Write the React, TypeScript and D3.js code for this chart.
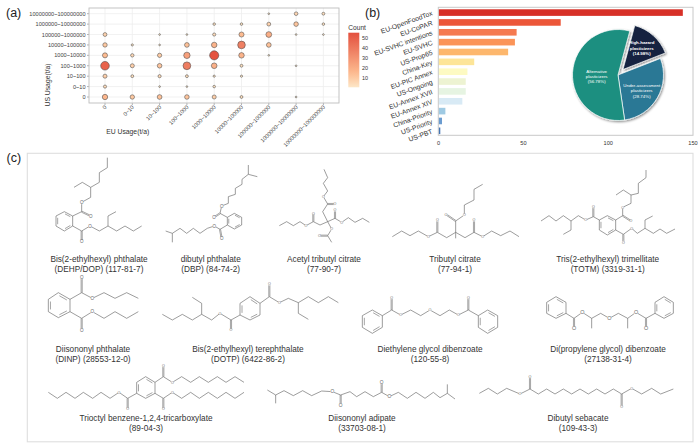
import React from "react";
import * as d3 from "d3";

const FONT = "'Liberation Sans', Arial, sans-serif";

// ---------- panel (a) data
const usageBins = ["0", "0~10", "10~100", "100~1000", "1000~10000", "10000~100000", "100000~1000000", "1000000~10000000", "10000000~100000000"];
const row0 = [17, 11, 13, 12, 9, 4, 0, 1, 0];
const row1 = [5, 0, 1, 1, 3, 0, 0, 0, 0];
const row2 = [9, 4, 5, 4, 2, 2, 0, 0, 0];
const row3 = [48, 9, 12, 38, 19, 4, 0, 1, 0];
const row4 = [15, 6, 10, 25, 54, 18, 1, 0, 0];
const row5 = [11, 2, 1, 13, 18, 37, 13, 0, 0];
const row6 = [8, 0, 1, 1, 5, 15, 20, 1, 1];
const row7 = [0, 0, 0, 0, 3, 3, 8, 12, 3];
const row8 = [0, 0, 0, 0, 0, 0, 1, 7, 4];
const rows = [row0, row1, row2, row3, row4, row5, row6, row7, row8];
const legendTicks = [10, 20, 30, 40, 50];

// ---------- panel (b) data
const lists = ["EU-OpenFoodTox", "EU-CoPAR", "EU-SVHC intentions", "EU-SVHC", "US-Prop65", "China-Key", "EU-PIC Annex", "US-Ongoing", "EU-Annex XVII", "EU-Annex XIV", "China-Priority", "US-Priority", "US-PBT"];
const listCounts = [144, 72, 46, 45, 41, 21, 17, 16, 16, 14, 4, 2, 1];
const listColors = ["#d73027", "#ec5638", "#f57a50", "#fb9458", "#fdb76d", "#fde598", "#fdfac2", "#edf3d2", "#e6f4e2", "#d8eaf5", "#9fcae3", "#6b9cd0", "#4575b4"];
const xTicksB = [0, 50, 100, 150];
const pieNames = ["High-hazard", "Under-assessment", "Alternative"];
const pieShares = [14.98, 28.74, 56.78];
const pieColors = ["#12233f", "#2a7895", "#1a8f80"];

// ---------- panel (c): skeletal formulae, read in 3x crop units relative to crop origin
type Mol = { o: [number, number]; c: number[][]; d: number[][]; r: number[][]; ox: number[][]; s?: number };
const ring = (a: number[]) => a;

const molecules: Mol[] = [
  { o: [0, 145], s: 4.5, c: [[322,38,322,68,298,83,298,112,272,127,247,112,222,127],[272,127,272,157,245,172,245,200,218,213],[218,243,245,258,270,243,298,258,324,243,350,258,375,243,400,258,425,243],[324,243,324,213,348,200]], d: [[245,200,272,213],[245,258,245,290]], r: [ring([193,200,218,213,218,243,193,258,168,243,168,213])], ox: [[245,172],[270,243],[272,213],[245,290]] },
  { o: [0, 145], s: 4.5, c: [[745,60,745,88,772,95],[745,88,726,103,726,118,706,130,706,148,685,155,685,175,665,183,660,205,682,217],[682,240,660,253,643,243,622,250,600,265,580,250,560,265,540,250,517,265,497,258],[517,265,517,292]], d: [[660,205,642,217],[660,253,665,280]], r: [ring([703,205,725,217,725,240,703,252,682,240,682,217])], ox: [[665,183],[643,243],[642,217],[665,280]] },
  { o: [260, 155], s: 3.6, c: [[192,43,203,68,190,85,203,108,190,125,203,147,188,170,203,200,225,190,245,202,265,188,285,202,308,190,328,202],[203,200,180,210,160,200,138,212,120,200,100,212,80,200,58,212],[203,200,215,222,203,242,215,262]], d: [[203,147,225,147],[225,190,225,165],[160,200,160,175],[203,242,178,242]], r: [], ox: [[190,125],[245,202],[138,212],[215,222],[225,147],[225,165],[160,175],[178,242]] },
  { o: [350, 145], s: 3.6, c: [[398,118,372,133,372,165,343,180,343,210,317,228,317,262,290,278,262,262,235,275,205,258,180,272,155,258,127,275],[317,262,345,278,372,262,398,275,425,258,452,272,480,258,507,275],[317,262,317,280]], d: [[317,228,288,208],[262,262,262,225],[372,262,372,225]], r: [], ox: [[343,210],[235,275],[398,275],[288,208],[262,225],[372,225]] },
  { o: [350, 145], s: 3.6, c: [[888,75,888,98,865,115,865,145,843,150,820,135,798,150],[843,150,843,175,818,187,818,212,797,225],[797,255,820,268,845,250,862,265,885,250,910,265,930,252,950,265,975,252],[885,250,885,225,908,213],[748,225,730,215,707,225,685,212,663,228,640,212,618,228,597,212,573,228],[663,228,663,255,640,268]], d: [[818,212,843,228],[820,268,820,292],[730,215,730,185]], r: [ring([772,212,797,225,797,255,772,270,748,255,748,225])], ox: [[818,187],[845,250],[707,225],[843,228],[820,292],[730,185]] },
  { o: [30, 270], s: 4.6, c: [[120,88,155,68,187,85,222,68,255,85,290,68,325,85],[120,125,155,145,187,125,222,145,255,125,290,145,325,125]], d: [[155,68,155,22],[155,145,155,180]], r: [ring([85,68,120,88,120,125,85,143,55,125,55,88])], ox: [[187,85],[187,125],[155,22],[155,180]] },
  { o: [30, 270], s: 3.6, c: [[690,100,718,80,748,98,775,85,805,98,835,80,865,98,895,80,925,98],[805,98,805,130,835,148],[630,135,603,150,570,130,545,150,515,133,487,150,457,133,427,150,397,133],[515,133,515,100,487,82]], d: [[718,80,718,42],[603,150,603,180]], r: [ring([660,80,690,100,690,135,660,150,630,135,630,100])], ox: [[748,98],[570,130],[718,42],[603,180]] },
  { o: [350, 295], s: 3.6, c: [[97,62,125,45,152,60,182,45,212,62,240,45,270,62,298,45,325,60,355,45,385,62]], d: [[125,45,125,8],[355,45,355,8]], r: [ring([67,45,97,62,97,97,67,115,37,97,37,62]), ring([413,45,443,62,443,97,413,115,385,97,385,62])], ox: [[152,60],[240,45],[325,60],[125,8],[355,8]] },
  { o: [350, 295], s: 5.4, c: [[648,55,672,70,697,52,725,70,752,55,778,70,805,55,833,70,858,52,888,70,915,55],[725,70,725,100],[833,70,833,100]], d: [[672,70,672,100],[888,70,888,100]], r: [ring([618,5,648,22,648,55,618,70,590,55,590,22]), ring([942,5,970,22,970,55,942,70,915,55,915,22])], ox: [[697,52],[778,70],[858,52],[672,100],[888,100]] },
  { o: [0, 295], s: 3.6, c: [[465,262,490,245,517,262,545,245,572,262,598,245,625,262,652,245,678,262,705,245,732,262],[465,295,490,310,517,292,545,310,572,292,598,310,625,292,652,310,678,292,705,310,732,292],[410,295,383,310,357,292,330,310,303,292,278,310,250,292,225,310,198,292,172,310,145,292]], d: [[490,245,490,212],[490,310,490,342],[383,310,383,342]], r: [ring([437,245,465,262,465,295,437,310,410,295,410,262])], ox: [[517,262],[517,292],[357,292],[490,212],[490,342],[383,342]] },
  { o: [0, 295], s: 4.8, c: [[802,285,827,300,852,287,880,302,908,287,935,302,965,288,997,290,1022,300,1050,290,1070,305,1095,290,1120,305,1145,292,1168,305,1195,292,1222,310,1248,292,1275,310,1300,292,1320,308,1342,295,1365,312],[827,300,827,325],[1342,295,1342,268]], d: [[1022,300,1022,330],[1145,292,1145,262]], r: [], ox: [[997,290],[1168,305],[1022,330],[1145,262]] },
  { o: [350, 295], s: 3.6, c: [[388,295,415,280,442,297,470,280,510,297,540,282,565,297,590,282,615,297,640,282,665,297,690,282,715,297,740,282,765,297,790,282,815,297,845,280,875,297,905,280,932,297,970,282]], d: [[540,282,540,245],[815,297,815,335]], r: [], ox: [[510,297],[845,280],[540,245],[815,335]] },
];

const moleculeNames: [string, string, number, number][] = [
  ["Bis(2-ethylhexyl) phthalate", "(DEHP/DOP) (117-81-7)", 99, 258.7],
  ["dibutyl phthalate", "(DBP) (84-74-2)", 210.7, 258.7],
  ["Acetyl tributyl citrate", "(77-90-7)", 324, 258.7],
  ["Tributyl citrate", "(77-94-1)", 455, 258.7],
  ["Tris(2-ethylhexyl) trimellitate", "(TOTM) (3319-31-1)", 607.7, 258.7],
  ["Diisononyl phthalate", "(DINP) (28553-12-0)", 93, 348.7],
  ["Bis(2-ethylhexyl) terephthalate", "(DOTP) (6422-86-2)", 248, 348.7],
  ["Diethylene glycol dibenzoate", "(120-55-8)", 430, 348.7],
  ["Di(propylene glycol) dibenzoate", "(27138-31-4)", 608, 348.7],
  ["Trioctyl benzene-1,2,4-tricarboxylate", "(89-04-3)", 146, 417.7],
  ["Diisononyl adipate", "(33703-08-1)", 362, 417.7],
  ["Dibutyl sebacate", "(109-43-3)", 578, 417.7],
];

const BOND = "#5a5a5a";

function Molecule({ m }: { m: Mol }) {
  const px = (v: number) => m.o[0] + v / 3;
  const py = (v: number) => m.o[1] + v / 3;
  const pts = (a: number[]) => d3.range(0, a.length, 2).map((i) => [px(a[i]), py(a[i + 1])] as [number, number]);
  const line = d3.line();
  const els: React.ReactNode[] = [];
  m.c.forEach((a, i) => els.push(<path key={"c" + i} d={line(pts(a)) || ""} fill="none" stroke={BOND} strokeWidth={0.6} />));
  m.d.forEach((a, i) => {
    const [p, q] = pts(a);
    const dx = q[0] - p[0], dy = q[1] - p[1];
    const l = Math.hypot(dx, dy);
    const nx = (-dy / l) * 0.55, ny = (dx / l) * 0.55;
    els.push(<path key={"d" + i} d={(line([[p[0] + nx, p[1] + ny], [q[0] + nx, q[1] + ny]]) || "") + (line([[p[0] - nx, p[1] - ny], [q[0] - nx, q[1] - ny]]) || "")} fill="none" stroke={BOND} strokeWidth={0.55} />);
  });
  m.r.forEach((a, i) => {
    const p = pts(a);
    const cx = d3.mean(p, (v) => v[0]) as number;
    const cy = d3.mean(p, (v) => v[1]) as number;
    els.push(<path key={"r" + i} d={(line(p) || "") + "Z"} fill="none" stroke={BOND} strokeWidth={0.6} />);
    [0, 2, 4].forEach((k) => {
      const s = p[k], e = p[(k + 1) % 6];
      const f = 0.8;
      const ia = [cx + (s[0] - cx) * f, cy + (s[1] - cy) * f] as [number, number];
      const ib = [cx + (e[0] - cx) * f, cy + (e[1] - cy) * f] as [number, number];
      els.push(<path key={"ri" + i + k} d={line([[ia[0] + (ib[0] - ia[0]) * 0.1, ia[1] + (ib[1] - ia[1]) * 0.1], [ib[0] - (ib[0] - ia[0]) * 0.1, ib[1] - (ib[1] - ia[1]) * 0.1]]) || ""} stroke={BOND} strokeWidth={0.55} />);
    });
  });
  m.ox.forEach((a, i) => {
    const s = m.s || 4;
    els.push(<circle key={"w" + i} cx={px(a[0])} cy={py(a[1])} r={s * 0.42} fill="#fff" />);
    els.push(<text key={"o" + i} x={px(a[0])} y={py(a[1]) + s * 0.36} fontSize={s} textAnchor="middle" fill="#666" fontFamily={FONT}>O</text>);
  });
  return <g>{els}</g>;
}

export default function App() {
  // panel a scales
  const xA = d3.scalePoint<string>().domain(usageBins).range([105, 323.4]);
  const yA = d3.scalePoint<string>().domain(usageBins).range([97, 13.7]);
  const rA = d3.scaleSqrt().domain([1, 55]).range([0.85, 4.6]);
  const cA = d3.scaleLinear<string>().domain([1, 15, 55]).range(["#fde7c8", "#fdbb90", "#e3503e"]);
  const gradStops = d3.range(0, 1.01, 0.1);

  // panel b scales
  const xB = d3.scaleLinear().domain([0, 150]).range([438.6, 693]);
  const yB = d3.scaleBand<string>().domain(lists).range([7.8, 135.6]).paddingInner(0.33).paddingOuter(0.15);

  // pie
  const pieGen = d3.pie<number>().sort(null).startAngle((15 * Math.PI) / 180).endAngle((375 * Math.PI) / 180);
  const arcs = pieGen(pieShares);
  const arcGen = d3.arc<d3.PieArcDatum<number>>().innerRadius(0).outerRadius(45.5);
  const pieCx = 618, pieCy = 75;

  const pieText: [number, number, string[], number][] = [
    [641.7, 42.7, [pieNames[0], "plasticizers", `(${pieShares[0]}%)`], 700],
    [641.7, 85.3, [pieNames[1], "plasticizers", `(${pieShares[1]}%)`], 400],
    [596.7, 71, [pieNames[2], "plasticizers", `(${pieShares[2]}%)`], 400],
  ];

  return (
    <svg width={700} height={443} viewBox="0 0 700 443" style={{ position: "fixed", left: 0, top: 0, background: "#fff" }} fontFamily={FONT}>
      <defs>
        <linearGradient id="cbar" x1="0" y1="1" x2="0" y2="0">
          {gradStops.map((t) => (
            <stop key={t} offset={t} stopColor={cA(1 + t * 54)} />
          ))}
        </linearGradient>
        <filter id="shadow" x="-20%" y="-20%" width="140%" height="140%">
          <feDropShadow dx="1" dy="1.2" stdDeviation="1" floodColor="#000" floodOpacity="0.45" />
        </filter>
      </defs>

      <text x={6} y={17} fontSize={12.5} fill="#222">(a)</text>
      <text x={365} y={17} fontSize={12.5} fill="#222">(b)</text>
      <text x={6.5} y={162} fontSize={12.5} fill="#222">(c)</text>

      {/* panel a */}
      <g>
        {usageBins.map((b) => (
          <g key={b}>
            <line x1={xA(b)} x2={xA(b)} y1={8} y2={103} stroke="#eee" strokeWidth={0.8} />
            <line x1={89} x2={339} y1={yA(b)} y2={yA(b)} stroke="#eee" strokeWidth={0.8} />
            <line x1={87} x2={89} y1={yA(b)} y2={yA(b)} stroke="#666" strokeWidth={0.5} />
            <line x1={xA(b)} x2={xA(b)} y1={103} y2={105} stroke="#666" strokeWidth={0.5} />
            <text x={85.5} y={(yA(b) as number) + 2} textAnchor="end" fontSize={5.6} fill="#444">{b}</text>
            <text transform={`translate(${(xA(b) as number) + 2},${107.5}) rotate(-45)`} textAnchor="end" fontSize={5.6} fill="#444">{b}</text>
          </g>
        ))}
        {rows.map((row, j) =>
          row.map((v, i) =>
            v > 0 ? (
              <circle key={`${i}-${j}`} cx={xA(usageBins[i])} cy={yA(usageBins[j])} r={rA(v)} fill={cA(v)} stroke="#4a4a4a" strokeWidth={0.55} />
            ) : null
          )
        )}
        <rect x={89} y={8} width={250} height={95} fill="none" stroke="#bdbdbd" strokeWidth={0.9} />
        <text x={127.7} y={133.5} textAnchor="middle" fontSize={6.8} fill="#333">EU Usage(t/a)</text>
        <text transform="translate(50,85) rotate(-90)" textAnchor="middle" fontSize={6.8} fill="#333">US Usage(t/a)</text>
        <text x={348.3} y={29.5} fontSize={6.6} fill="#333">Count</text>
        <rect x={348.3} y={32.7} width={11} height={54.6} fill="url(#cbar)" />
        {legendTicks.map((t) => {
          const y = 87.3 - ((t - 1 + 0) / 54) * 54.6 + 0.2;
          return <text key={t} x={362} y={y + 1.8} fontSize={5.4} fill="#333">{t}</text>;
        })}
      </g>

      {/* panel b */}
      <g>
        {lists.map((l, i) => (
          <g key={l}>
            <rect x={xB(0)} y={yB(l)} width={xB(listCounts[i]) - xB(0)} height={yB.bandwidth()} fill={listColors[i]} />
            <text transform={`translate(433,${(yB(l) as number) + yB.bandwidth() / 2 + 2.5}) rotate(-20)`} textAnchor="end" fontSize={6.8} fill="#333">{l}</text>
          </g>
        ))}
        <rect x={438.3} y={7.3} width={254.7} height={128} fill="none" stroke="#c8c8c8" strokeWidth={1} />
        {xTicksB.map((t) => (
          <text key={t} x={xB(t)} y={145} textAnchor="middle" fontSize={5.6} fill="#333">{t}</text>
        ))}
        <g filter="url(#shadow)">
          {arcs.map((a, i) => {
            const off = i === 0 ? [5, -5.5] : [0, 0];
            return <path key={i} d={arcGen(a) || ""} transform={`translate(${pieCx + off[0]},${pieCy + off[1]})`} fill={pieColors[i]} stroke="#fff" strokeWidth={0.7} />;
          })}
        </g>
        {pieText.map(([x, y, lines, w], i) =>
          lines.map((t, k) => (
            <text key={`${i}-${k}`} x={x} y={y + k * 5.4 + 1.6} textAnchor="middle" fontSize={4.4} fontWeight={w} fill="#fff">{t}</text>
          ))
        )}
      </g>

      {/* panel c */}
      <rect x={27.3} y={153.3} width={665.7} height={288.5} fill="none" stroke="#dedede" strokeWidth={1.1} />
      {molecules.map((m, i) => <Molecule key={i} m={m} />)}
      {moleculeNames.map(([a, b, x, y]) => (
        <g key={a} fontSize={8.25} fill="#333" textAnchor="middle">
          <text x={x} y={y + 2.8}>{a}</text>
          <text x={x} y={y + 12.8}>{b}</text>
        </g>
      ))}
    </svg>
  );
}
